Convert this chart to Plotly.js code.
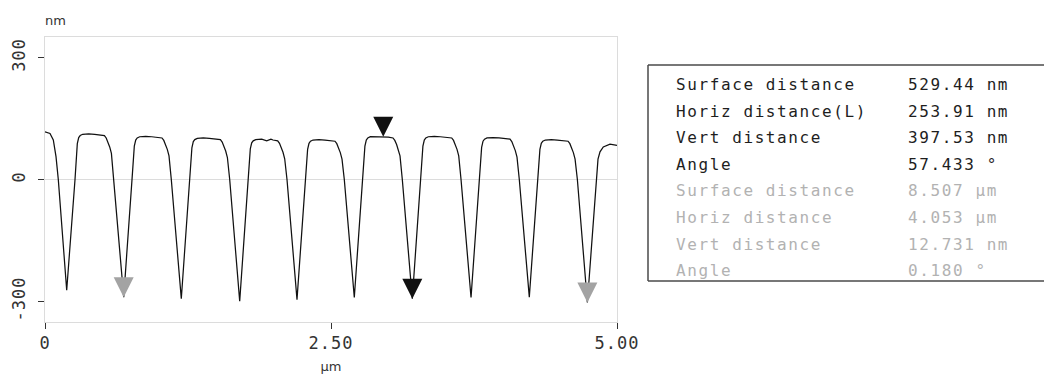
<!DOCTYPE html>
<html>
<head>
<meta charset="utf-8">
<script src="https://cdn.plot.ly/plotly-3.0.1.min.js"></script>
<style>
  html, body { margin: 0; padding: 0; background: #fff; }
  #chart { width: 1045px; height: 376px; }
  .annotation-text { letter-spacing: 1.6px; }
  .xtick text, .ytick text { letter-spacing: 1px; }
</style>
</head>
<body>
<div id="chart"></div>
<script>
// ---- profile data (x in µm, height in nm) ----
const profileX = [
  0.0000, 0.0437, 0.0726, 0.0962, 0.1163, 0.1897,
  0.2623, 0.2727, 0.2824, 0.2946, 0.3077, 0.3296, 0.3820, 0.4345,
  0.4782, 0.5193, 0.5350, 0.5508, 0.5656, 0.5805, 0.6006, 0.6880,
  0.7606, 0.7710, 0.7807, 0.7929, 0.8060, 0.8279, 0.8803, 0.9328,
  0.9816, 1.0227, 1.0384, 1.0542, 1.0690, 1.0839, 1.1040, 1.1914,
  1.2640, 1.2744, 1.2841, 1.2963, 1.3094, 1.3313, 1.3837, 1.4362,
  1.4921, 1.5332, 1.5489, 1.5647, 1.5795, 1.5944, 1.6145, 1.7019,
  1.7745, 1.7849, 1.7946, 1.8068, 1.8199, 1.8418, 1.8942, 1.9380, 1.9750,
  1.9930, 2.0341, 2.0498, 2.0656, 2.0804, 2.0953, 2.1154, 2.2028,
  2.2754, 2.2858, 2.2955, 2.3077, 2.3208, 2.3427, 2.3951, 2.4476,
  2.4939, 2.5350, 2.5507, 2.5665, 2.5813, 2.5962, 2.6163, 2.7037,
  2.7763, 2.7867, 2.7964, 2.8086, 2.8217, 2.8436, 2.8960, 2.9570,
  3.0009, 3.0420, 3.0577, 3.0735, 3.0883, 3.1032, 3.1233, 3.2107,
  3.2833, 3.2937, 3.3034, 3.3156, 3.3287, 3.3506, 3.4030, 3.4555,
  3.5142, 3.5553, 3.5710, 3.5868, 3.6016, 3.6165, 3.6366, 3.7240,
  3.7966, 3.8070, 3.8167, 3.8289, 3.8420, 3.8639, 3.9163, 3.9688,
  4.0236, 4.0647, 4.0804, 4.0962, 4.1110, 4.1259, 4.1460, 4.2334,
  4.3060, 4.3164, 4.3261, 4.3383, 4.3514, 4.3733, 4.4257, 4.4782,
  4.5312, 4.5723, 4.5880, 4.6038, 4.6186, 4.6335, 4.6536, 4.7410,
  4.8164, 4.8339, 4.8514, 4.8802, 4.9388, 5.0000
];
const profileY = [
  117, 113, 97, 56, 0, -272,
  0, 45, 88, 103, 108, 111, 112, 111,
  110, 108, 102, 92, 80, 64, 0, -289,
  0, 39, 82, 97, 102, 105, 106, 105,
  104, 102, 96, 86, 74, 58, 0, -293,
  0, 35, 78, 93, 98, 101, 102, 101,
  100, 98, 92, 82, 70, 54, 0, -299,
  0, 32, 75, 90, 95, 98, 99, 95, 99,
  97, 95, 89, 79, 67, 51, 0, -295,
  0, 31, 74, 89, 94, 97, 98, 97,
  96, 94, 88, 78, 66, 50, 0, -290,
  0, 39, 82, 97, 102, 105, 105, 105,
  104, 102, 96, 86, 74, 58, 0, -293,
  0, 39, 82, 97, 102, 105, 106, 105,
  104, 102, 96, 86, 74, 58, 0, -290,
  0, 36, 79, 94, 99, 102, 103, 102,
  101, 99, 93, 83, 71, 55, 0, -289,
  0, 31, 74, 89, 94, 97, 98, 97,
  96, 94, 88, 78, 66, 50, 0, -302,
  0, 50, 68, 80, 87, 84
];

// cursor markers (black pair and gray pair)
const blackMarkX = [2.957, 3.2107];
const blackMarkY = [105, -293];
const grayMarkX = [0.688, 4.741];
const grayMarkY = [-289, -302];

// axis ticks
const xTickVals = [0, 2.5, 5];
const xTickText = ['0', '2.50', '5.00'];
const yTickVals = [-300, 0, 300];
const yTickText = ['-300', '0', '300'];

// measurement table
const tableLabels = ['Surface distance', 'Horiz distance(L)', 'Vert distance', 'Angle',
                     'Surface distance', 'Horiz distance', 'Vert distance', 'Angle'];
const tableValues = ['529.44 nm', '253.91 nm', '397.53 nm', '57.433 °',
                     '8.507 µm', '4.053 µm', '12.731 nm', '0.180 °'];
const tableActive = [true, true, true, true, false, false, false, false];

// ---- layout geometry (pixels) ----
const W = 1045, H = 376;
const M = {l: 45, r: 428, t: 37, b: 54};
const plotW = W - M.l - M.r, plotH = H - M.t - M.b;
const px2x = p => (p - M.l) / plotW;
const py2y = p => (H - M.b - p) / plotH;

const traces = [
  {x: profileX, y: profileY, type: 'scatter', mode: 'lines',
   line: {color: '#111111', width: 1.25}, hoverinfo: 'skip'},
  {x: grayMarkX, y: grayMarkY, type: 'scatter', mode: 'markers',
   marker: {symbol: 'arrow-down', size: 20, color: '#a3a3a3', line: {width: 0}}, hoverinfo: 'skip'},
  {x: blackMarkX, y: blackMarkY, type: 'scatter', mode: 'markers',
   marker: {symbol: 'arrow-down', size: 20, color: '#111111', line: {width: 0}}, hoverinfo: 'skip'}
];

const annotations = [];
const rowY0 = 84.5, rowStep = 26.6;
tableLabels.forEach((lab, i) => {
  const col = tableActive[i] ? '#1e1e1e' : '#b2b2b2';
  annotations.push({text: lab, xref: 'paper', yref: 'paper', x: px2x(674), y: py2y(rowY0 + i * rowStep),
    xanchor: 'left', yanchor: 'middle', showarrow: false,
    font: {family: 'DejaVu Sans Mono', size: 16, color: col}});
  annotations.push({text: tableValues[i], xref: 'paper', yref: 'paper', x: px2x(906), y: py2y(rowY0 + i * rowStep),
    xanchor: 'left', yanchor: 'middle', showarrow: false,
    font: {family: 'DejaVu Sans Mono', size: 16, color: col}});
});

// open-ended table frame (right side runs off the picture)
const boxL = px2x(648), boxR = px2x(1044), boxT = py2y(65), boxB = py2y(281);
const boxLine = {color: '#4a4a4a', width: 1.5};

const layout = {
  width: W, height: H,
  margin: M,
  paper_bgcolor: '#ffffff', plot_bgcolor: '#ffffff',
  showlegend: false, hovermode: false,
  title: {text: 'nm', xref: 'paper', x: 0, xanchor: 'left', yref: 'container', y: 1 - 20 / H, yanchor: 'middle',
          font: {family: 'DejaVu Sans', size: 13, color: '#333333'}},
  xaxis: {
    range: [0, 5], tickvals: xTickVals, ticktext: xTickText,
    ticks: 'outside', ticklen: 6, tickwidth: 1, tickcolor: '#333333',
    showline: true, linecolor: '#dcdcdc', linewidth: 1, mirror: true,
    showgrid: false, zeroline: false,
    tickfont: {family: 'DejaVu Sans Mono', size: 17, color: '#333333'},
    title: {text: 'µm', standoff: 9, font: {family: 'DejaVu Sans', size: 13, color: '#333333'}}
  },
  yaxis: {
    range: [-350, 350], tickvals: yTickVals, ticktext: yTickText, tickangle: -90,
    ticks: 'outside', ticklen: 6, tickwidth: 1, tickcolor: '#333333',
    ticklabelstandoff: 6,
    showline: true, linecolor: '#dcdcdc', linewidth: 1, mirror: true,
    showgrid: false, zeroline: true, zerolinecolor: '#dcdcdc', zerolinewidth: 1,
    tickfont: {family: 'DejaVu Sans Mono', size: 17, color: '#333333'}
  },
  shapes: [
    {type: 'line', xref: 'paper', yref: 'paper', x0: boxL, x1: boxR, y0: boxT, y1: boxT, line: boxLine},
    {type: 'line', xref: 'paper', yref: 'paper', x0: boxL, x1: boxR, y0: boxB, y1: boxB, line: boxLine},
    {type: 'line', xref: 'paper', yref: 'paper', x0: boxL, x1: boxL, y0: boxB, y1: boxT, line: boxLine}
  ],
  annotations: annotations
};

Plotly.newPlot('chart', traces, layout, {displayModeBar: false, staticPlot: true});
</script>
</body>
</html>
